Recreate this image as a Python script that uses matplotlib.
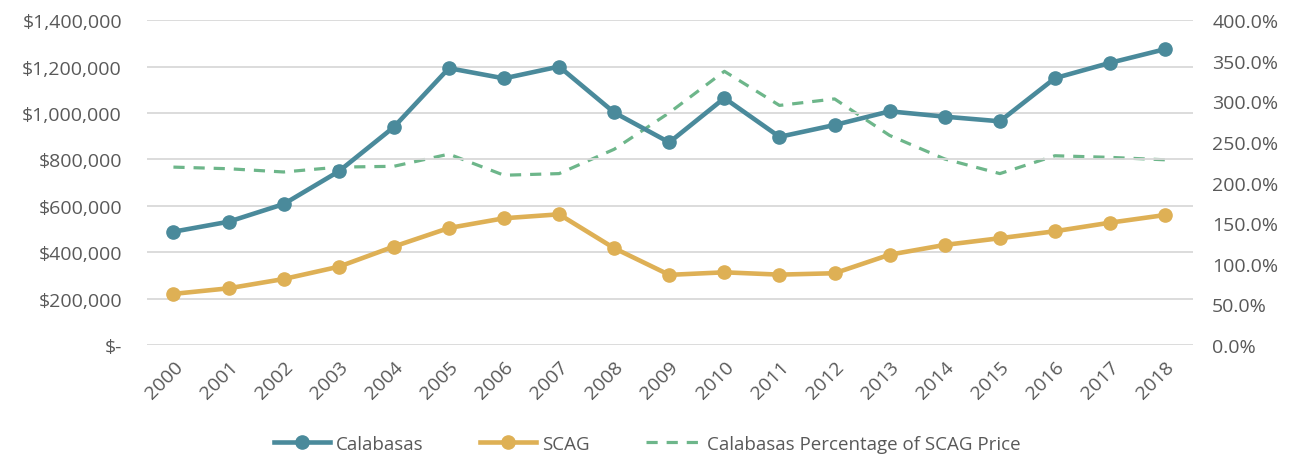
import matplotlib
matplotlib.use("Agg")
import matplotlib.pyplot as plt
from matplotlib.ticker import FuncFormatter, MultipleLocator

years = [str(y) for y in range(2000, 2019)]
calabasas = [488000, 531000, 607000, 748000, 939000, 1193000, 1149000, 1200000, 1002000,
             873000, 1064000, 897000, 948000, 1007000, 984000, 964000, 1150000, 1216000, 1275000]
scag = [220000, 244000, 284000, 337000, 424000, 504000, 546000, 563000, 417000,
        302000, 313000, 303000, 309000, 389000, 431000, 460000, 490000, 527000, 560000]
pct = [219, 217, 213, 219, 220, 235, 209, 211, 241,
       286, 337, 295, 303, 258, 229, 211, 233, 231, 228]

teal = "#4A8A9B"
gold = "#DEB055"
green = "#6DB68A"
txt = "#595959"
grid = "#D9D9D9"

plt.rcParams['font.family'] = ['Open Sans', 'DejaVu Sans']

fig = plt.figure(figsize=(12.95, 4.6), dpi=100)
ax = fig.add_axes([0.1135, 0.248, 0.8075, 0.706])
ax2 = ax.twinx()

x = list(range(len(years)))
l1, = ax.plot(x, calabasas, color=teal, lw=3.3, marker='o', ms=9.5, label='Calabasas', zorder=3)
l2, = ax.plot(x, scag, color=gold, lw=3.3, marker='o', ms=9.5, label='SCAG', zorder=3)
l3, = ax2.plot(x, pct, color=green, lw=2.3, ls=(0, (3.5, 2.8)), label='Calabasas Percentage of SCAG Price')

ax.set_xlim(-0.48, 18.5)
ax.set_ylim(0, 1400000)
ax2.set_ylim(0, 400)
ax.yaxis.set_major_locator(MultipleLocator(200000))
ax2.yaxis.set_major_locator(MultipleLocator(50))

def money(v, p):
    if v == 0:
        return "$-"
    return "${:,.0f}".format(v)

ax.yaxis.set_major_formatter(FuncFormatter(money))
ax2.yaxis.set_major_formatter(FuncFormatter(lambda v, p: "{:.1f}%".format(v)))

ax.set_xticks(x)
ax.set_xticklabels(years, rotation=45, ha='right', rotation_mode='anchor')

ax.grid(axis='y', color=grid, lw=1.3)
ax.set_axisbelow(True)
for a in (ax, ax2):
    for s in a.spines.values():
        s.set_visible(False)
    a.tick_params(length=0, colors=txt, labelsize=14)
ax.tick_params(axis='y', pad=18)
ax2.tick_params(axis='y', pad=14)
ax.tick_params(axis='x', pad=9)

ax.set_zorder(ax2.get_zorder() + 1)
ax.patch.set_visible(False)

fig.legend(handles=[l1, l2, l3], loc='center', bbox_to_anchor=(0.5, 0.033), ncol=3,
           frameon=False, fontsize=13.5, labelcolor=txt, handlelength=3.0,
           columnspacing=3.0, handletextpad=0.3)

fig.savefig("out.png", dpi=100)
